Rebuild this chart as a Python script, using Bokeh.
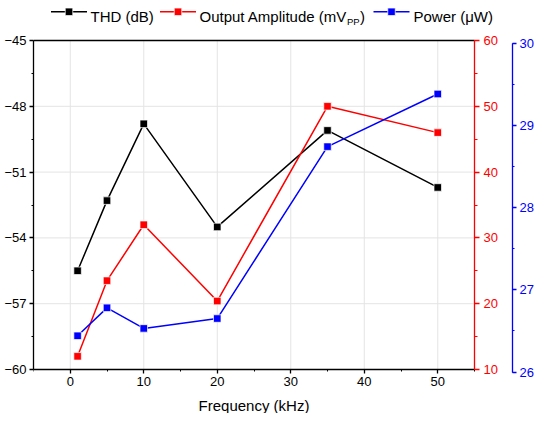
from bokeh.plotting import figure
from bokeh.models import Range1d, LinearAxis, SingleIntervalTicker, ColumnDataSource, Label
from bokeh.embed import file_html
from bokeh.resources import INLINE

# ---- data ----
freq_khz = [1, 5, 10, 20, 35, 50]
thd_db = [-55.5, -52.3, -48.8, -53.5, -49.1, -51.7]
amp_mvpp = [12, 23.5, 32, 20.4, 50, 46]
power_uw = [26.44, 26.78, 26.53, 26.65, 28.74, 29.38]

x_ticks = [0, 10, 20, 30, 40, 50]
thd_ticks = [-60, -57, -54, -51, -48, -45]
series_names = ["THD (dB)", "Output Amplitude (mV", "Power (\u03bcW)"]
series_colors = ["#000000", "#ff0000", "#0000ff"]
x_title = "Frequency (kHz)"

FONT = "Liberation Sans"
W, H = 534, 413

# axis limits of the boxed plotting area
X0, X1 = -5, 55
THD0, THD1 = -60, -45
AMP0, AMP1 = 10, 60
PW0, PW1 = 26, 30

# pixel geometry (canvas coordinates)
FR_L, BOX_R = 33, 474        # left edge of frame / right edge of the box
TOP_PX, BOT_PX = 40, 369     # -45 dB line / -60 dB line
BLUE_AX_PX = 512
XPX = (X1 - X0) / (BOX_R - FR_L)
DATA_H = BOT_PX - TOP_PX
YPX = (THD1 - THD0) / DATA_H
amp_scale = (AMP1 - AMP0) / DATA_H
pw_scale = (PW1 - PW0) / DATA_H
pw_shift = 2.5 * pw_scale

def lx(px):
    return X0 + (px - FR_L) * XPX

def ly(py):
    return THD1 + (TOP_PX - py) * YPX

def amp_y(py):
    return AMP1 + (TOP_PX - py) * amp_scale

def pw_y(py):
    return PW1 + pw_shift + (TOP_PX - py) * pw_scale

p = figure(width=W, height=H,
           x_range=Range1d(X0, lx(W)),
           y_range=Range1d(ly(H), ly(0)),
           output_backend="svg", toolbar_location=None,
           min_border_left=FR_L, min_border_top=0, min_border_right=0, min_border_bottom=0)
p.extra_y_ranges = {
    "amp": Range1d(amp_y(H), amp_y(0)),
    "pow": Range1d(pw_y(H), pw_y(0)),
}
p.outline_line_color = None
p.grid.visible = False

def style_axis(ax, color, size="13px"):
    ax.axis_line_color = color
    ax.axis_line_width = 1.3
    ax.major_tick_line_color = color
    ax.minor_tick_line_color = color
    ax.major_tick_line_width = 1.3
    ax.minor_tick_line_width = 1.0
    ax.major_tick_out = 4
    ax.major_tick_in = 0
    ax.minor_tick_out = 2
    ax.minor_tick_in = 0
    ax.major_label_text_color = color
    ax.major_label_text_font = FONT
    ax.major_label_text_font_size = size

xax = p.xaxis[0]
xax.ticker = SingleIntervalTicker(interval=10, num_minor_ticks=2)
xax.bounds = (X0, X1)
xax.fixed_location = THD0
style_axis(xax, "black")
xax.major_label_standoff = 3

yax = p.yaxis[0]
yax.ticker = SingleIntervalTicker(interval=3, num_minor_ticks=2)
yax.bounds = (THD0, THD1)
style_axis(yax, "black")
yax.major_label_standoff = 3

red_ax = LinearAxis(y_range_name="amp", bounds=(AMP0, AMP1), fixed_location=X1,
                    ticker=SingleIntervalTicker(interval=10, num_minor_ticks=2))
style_axis(red_ax, "#ff0000")
red_ax.major_tick_out = 5
red_ax.minor_tick_out = 3
red_ax.major_label_standoff = 4
p.add_layout(red_ax, "right")

blue_ax = LinearAxis(y_range_name="pow", bounds=(PW0, PW1), fixed_location=lx(BLUE_AX_PX),
                     ticker=SingleIntervalTicker(interval=1, num_minor_ticks=2))
style_axis(blue_ax, "#0000ff")
blue_ax.major_label_standoff = 3
p.add_layout(blue_ax, "right")

# x axis title, centred under the box
p.add_layout(Label(x=(X0 + X1) / 2, y=ly(404.5), text=x_title, text_font=FONT,
                   text_font_size="15px", text_baseline="alphabetic", text_align="center",
                   text_color="black"))

# grid lines and top border, limited to the box
GRID = "#e4e4e4"
p.segment(x0=x_ticks, y0=[THD0] * len(x_ticks), x1=x_ticks, y1=[THD1] * len(x_ticks),
          line_color=GRID, line_width=1, level="underlay")
p.segment(x0=[X0] * len(thd_ticks), y0=thd_ticks, x1=[X1] * len(thd_ticks), y1=thd_ticks,
          line_color=GRID, line_width=1, level="underlay")
p.segment(x0=[X0], y0=[THD1], x1=[X1], y1=[THD1], line_color="black", line_width=1.3)

src = ColumnDataSource(dict(x=freq_khz, thd=thd_db, amp=amp_mvpp, pw=power_uw))
for col, color, rng in [("thd", series_colors[0], "default"),
                        ("amp", series_colors[1], "amp"),
                        ("pw", series_colors[2], "pow")]:
    p.line("x", col, source=src, line_color=color, line_width=1.5, y_range_name=rng)
    p.scatter("x", col, source=src, marker="square", size=7.5, fill_color=color,
              line_color="white", line_width=0.7, y_range_name=rng)

# ---- legend strip above the box ----
leg_line_y = 11.3
leg_base = 16.4
item_px = [50.5, 159.5, 373]     # left end of each legend line
text_px = [90, 199, 413]
line_len = 36
for i, (name, color) in enumerate(zip(series_names, series_colors)):
    a, b = item_px[i], item_px[i] + line_len
    p.segment(x0=[lx(a)], y0=[ly(leg_line_y)], x1=[lx(b)], y1=[ly(leg_line_y)],
              line_color=color, line_width=1.5)
    p.scatter(x=[lx((a + b) / 2)], y=[ly(leg_line_y)], marker="square", size=7.5,
              fill_color=color, line_color="white", line_width=0.7)
    p.add_layout(Label(x=lx(text_px[i]), y=ly(leg_base), text=name, text_font=FONT,
                       text_font_size="15px", text_baseline="alphabetic", text_align="left",
                       text_color="black"))
p.add_layout(Label(x=lx(346.5), y=ly(leg_base + 4.6), text="PP", text_font=FONT,
                   text_font_size="9.5px", text_baseline="alphabetic", text_align="left",
                   text_color="black"))
p.add_layout(Label(x=lx(359.5), y=ly(leg_base), text=")", text_font=FONT,
                   text_font_size="15px", text_baseline="alphabetic", text_align="left",
                   text_color="black"))

open("out.html", "w").write(file_html(p, INLINE))
